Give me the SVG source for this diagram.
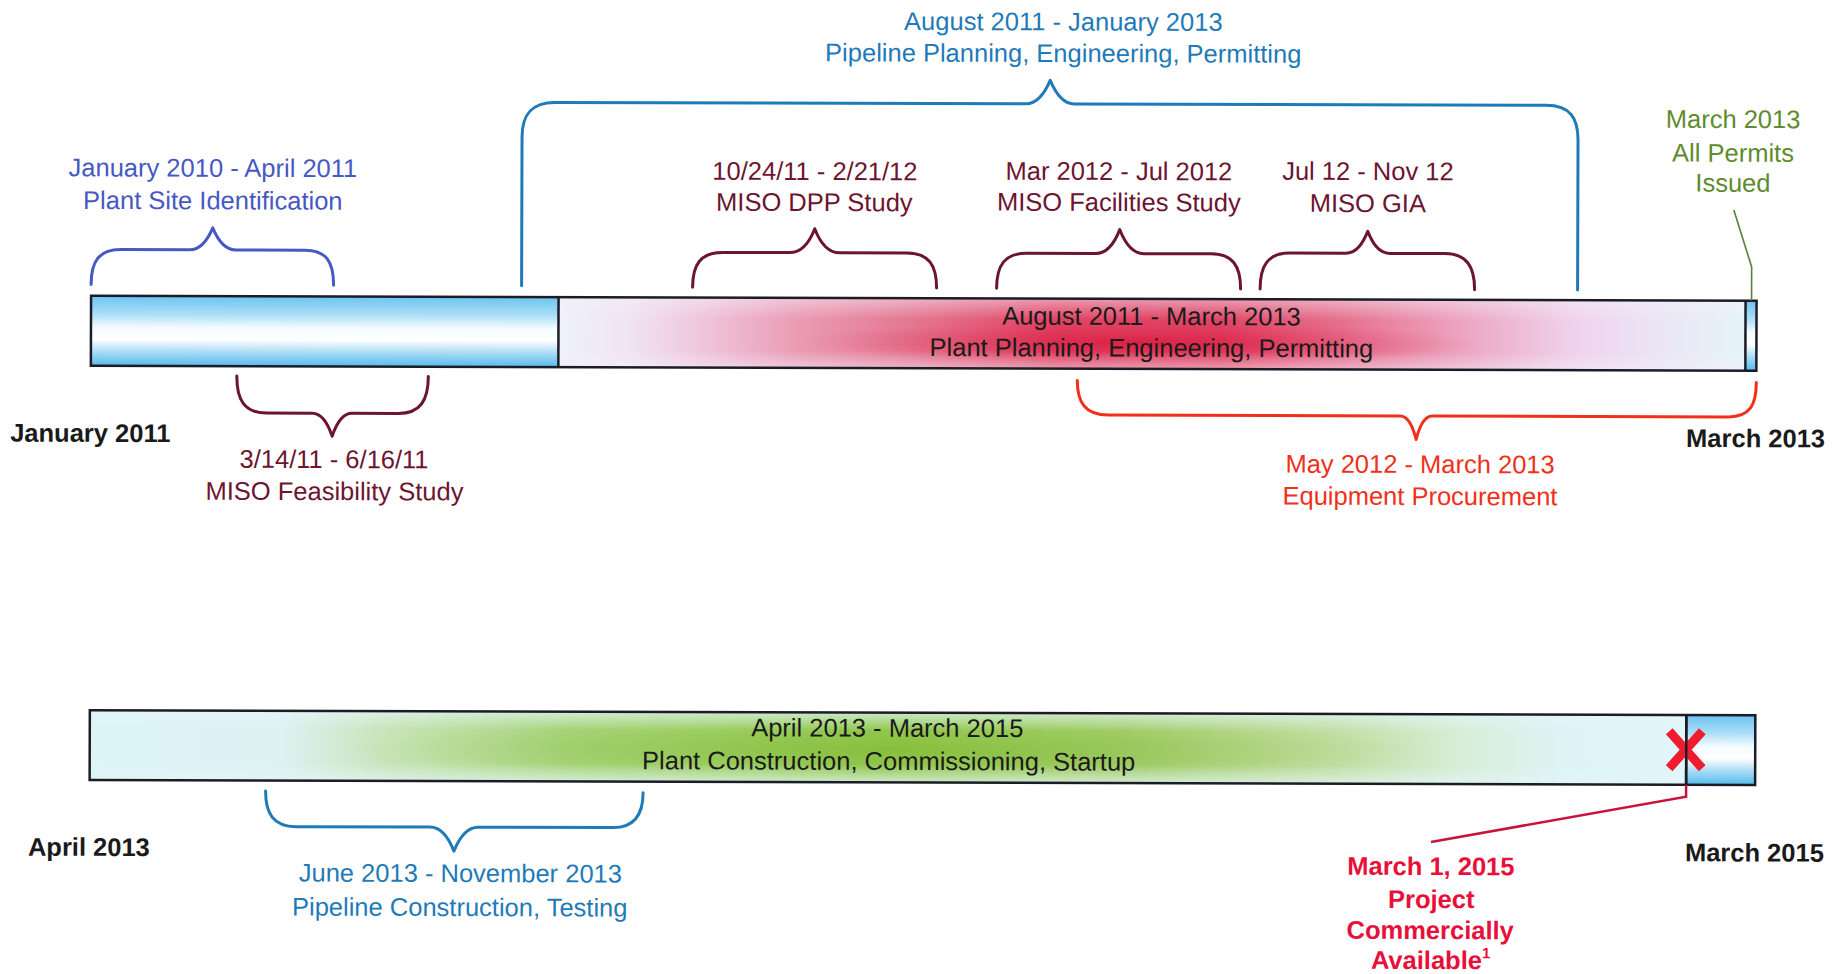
<svg xmlns="http://www.w3.org/2000/svg" width="1845" height="974" viewBox="0 0 1845 974">
<style>
.t{font-family:"Liberation Sans",Arial,Helvetica,sans-serif;font-size:25.5px;text-anchor:middle}
.l{text-anchor:start}
.b{font-weight:bold}
.indigo{fill:#4659c2}
.pipe{fill:#1f7ab8}
.maroon{fill:#6c1430}
.green{fill:#5e8c2c}
.orange{fill:#f0301a}
.black{fill:#1a1a1a}
.red{fill:#e8103a}
.brace{fill:none;stroke-width:3;stroke-linecap:round;stroke-linejoin:round}
.bar{stroke:#1c1c28;stroke-width:2.5}
</style>
<defs>
<linearGradient id="blueV" x1="0" y1="0" x2="0" y2="1">
<stop offset="0" stop-color="#6cc4f0"/>
<stop offset="0.25" stop-color="#a8ddf6"/>
<stop offset="0.45" stop-color="#f4fbfe"/>
<stop offset="0.62" stop-color="#ffffff"/>
<stop offset="0.82" stop-color="#a0d8f4"/>
<stop offset="1" stop-color="#56bbec"/>
</linearGradient>
<linearGradient id="redH" x1="0" y1="0" x2="1" y2="0">
<stop offset="0" stop-color="#eef1fa"/>
<stop offset="0.06" stop-color="#f0e4f2"/>
<stop offset="0.12" stop-color="#efc6dc"/>
<stop offset="0.2" stop-color="#ea9cb4"/>
<stop offset="0.3" stop-color="#e47690"/>
<stop offset="0.42" stop-color="#e04262"/>
<stop offset="0.56" stop-color="#e04464"/>
<stop offset="0.66" stop-color="#e6708e"/>
<stop offset="0.76" stop-color="#eca4c0"/>
<stop offset="0.86" stop-color="#f0d4ee"/>
<stop offset="0.94" stop-color="#eae8f6"/>
<stop offset="1" stop-color="#e4f4fa"/>
</linearGradient>
<linearGradient id="greenH" x1="0" y1="0" x2="1" y2="0">
<stop offset="0" stop-color="#ddf4f8"/>
<stop offset="0.12" stop-color="#dcf2f2"/>
<stop offset="0.19" stop-color="#c6e4b6"/>
<stop offset="0.3" stop-color="#a8d47a"/>
<stop offset="0.5" stop-color="#92c84c"/>
<stop offset="0.65" stop-color="#a2cd6a"/>
<stop offset="0.78" stop-color="#c2dea2"/>
<stop offset="0.86" stop-color="#d8eed8"/>
<stop offset="0.92" stop-color="#ddf3f4"/>
<stop offset="1" stop-color="#e0f6fa"/>
</linearGradient>
<linearGradient id="edgeFade" x1="0" y1="0" x2="0" y2="1">
<stop offset="0" stop-color="#f4f0fa" stop-opacity="0.5"/>
<stop offset="0.3" stop-color="#f4f0fa" stop-opacity="0"/>
<stop offset="0.75" stop-color="#f4f0fa" stop-opacity="0"/>
<stop offset="1" stop-color="#f4f0fa" stop-opacity="0.5"/>
</linearGradient>
<linearGradient id="edgeFadeG" x1="0" y1="0" x2="0" y2="1">
<stop offset="0" stop-color="#e4f6f8" stop-opacity="0.7"/>
<stop offset="0.26" stop-color="#e4f6f8" stop-opacity="0"/>
<stop offset="0.74" stop-color="#e4f6f8" stop-opacity="0"/>
<stop offset="1" stop-color="#e4f6f8" stop-opacity="0.7"/>
</linearGradient>
<radialGradient id="redStreak">
<stop offset="0" stop-color="#d80a32" stop-opacity="0.6"/>
<stop offset="0.5" stop-color="#dc1a40" stop-opacity="0.3"/>
<stop offset="1" stop-color="#e03050" stop-opacity="0"/>
</radialGradient>
<radialGradient id="greenStreak">
<stop offset="0" stop-color="#78b428" stop-opacity="0.45"/>
<stop offset="0.6" stop-color="#84bc38" stop-opacity="0.2"/>
<stop offset="1" stop-color="#90c448" stop-opacity="0"/>
</radialGradient>
</defs>
<rect width="1845" height="974" fill="#ffffff"/>
<g transform="rotate(0.17 922 487)">

<g id="top-bar">
<rect x="90.5" y="298.3" width="467.5" height="70" fill="url(#blueV)"/>
<rect x="558" y="298.3" width="1187" height="70" fill="url(#redH)"/>
<ellipse cx="1140" cy="342" rx="340" ry="22" fill="url(#redStreak)"/>
<rect x="558" y="298.3" width="1187" height="70" fill="url(#edgeFade)"/>
<rect x="1745" y="298.3" width="11" height="70" fill="url(#blueV)"/>
<rect class="bar" x="90.5" y="298.3" width="1665.5" height="70" fill="none"/>
<line class="bar" x1="558" y1="298.3" x2="558" y2="368.3"/>
<line class="bar" x1="1745" y1="298.3" x2="1745" y2="368.3"/>
<text class="t black" x="1151" y="324.3">August 2011 - March 2013</text>
<text class="t black" x="1151" y="356">Plant Planning, Engineering, Permitting</text>
</g>

<g id="bottom-bar">
<rect x="90.5" y="712.8" width="1596.5" height="69.7" fill="url(#greenH)"/>
<ellipse cx="890" cy="750" rx="560" ry="28" fill="url(#greenStreak)"/>
<rect x="90.5" y="712.8" width="1596.5" height="69.7" fill="url(#edgeFadeG)"/>
<rect x="1687" y="712.8" width="69" height="69.7" fill="url(#blueV)"/>
<rect class="bar" x="90.5" y="712.8" width="1665.5" height="69.7" fill="none"/>
<line class="bar" x1="1687" y1="712.8" x2="1687" y2="782.5"/>
<text class="t black" x="888" y="736.8">April 2013 - March 2015</text>
<text class="t black" x="889.5" y="770">Plant Construction, Commissioning, Startup</text>
</g>

<g id="connectors">
<path class="brace" stroke="#4659c2" d="M90.5,287 C90.5,264 98,252 120,252 L189,252 C200,252 207,242 212,230 C217,242 224,252 235,252 L304,252 C326,252 333,264 333,287"/>
<path class="brace" stroke="#1f7ab8" d="M521,287 L521,138 C521,116 530,103.5 554,103.5 L1025,103.5 C1036,103.5 1043,94 1049,80 C1055,94 1062,103.5 1073,103.5 L1545,103.5 C1569,103.5 1577,116 1577,138 L1577,288"/>
<path class="brace" stroke="#6c1430" d="M692,288 C692,265 700,253 722,253 L789,253 C801,253 809,242 814,229 C819,242 827,253 839,253 L906,253 C928,253 936,265 936,288"/>
<path class="brace" stroke="#6c1430" d="M996,288 C996,265 1004,253 1026,253 L1095,253 C1107,253 1114,242 1119,229 C1124,242 1131,253 1143,253 L1210,253 C1232,253 1240,265 1240,288"/>
<path class="brace" stroke="#6c1430" d="M1259.5,288 C1259.5,265 1267,252 1289,252 L1345,252 C1356,252 1362,242 1367,230 C1372,242 1378,252 1389,252 L1444,252 C1466,252 1474,265 1474,288"/>
<path class="brace" stroke="#6c1430" d="M236.5,378 C236.5,402 244,415 266,415 L312,415 C322,415 328,426 332,438 C336,426 342,415 352,415 L398,415 C420,415 428,402 428,378"/>
<path class="brace" stroke="#f0301a" d="M1077,380 C1077,402 1085,414.5 1108,414.5 L1400,414.5 C1408,414.5 1413,426 1416,438 C1419,426 1424,414.5 1432,414.5 L1728,414.5 C1750,414.5 1756,402 1756,380"/>
<path class="brace" stroke="#1f7ab8" d="M266.5,793 C266.5,815 274,828.5 297,828.5 L431,828.5 C443,828.5 450,840 455,852.5 C460,840 467,828.5 479,828.5 L614,828.5 C636,828.5 644,815 644,793.5"/>
<polyline fill="none" stroke="#5e7e3c" stroke-width="1.6" points="1733,207.6 1751,264.5 1751,298.3"/>
<polyline fill="none" stroke="#c8143c" stroke-width="2.5" points="1687,782.5 1687,794.4 1432,840.5"/>
</g>

<g id="plant-site">
<text class="t indigo" x="212" y="178.8">January 2010 - April 2011</text>
<text class="t indigo" x="212" y="211.4">Plant Site Identification</text>
</g>
<g id="pipeline-planning">
<text class="t pipe" x="1062" y="30">August 2011 - January 2013</text>
<text class="t pipe" x="1062" y="61.6">Pipeline Planning, Engineering, Permitting</text>
</g>
<g id="miso-dpp">
<text class="t maroon" x="814" y="180.3">10/24/11 - 2/21/12</text>
<text class="t maroon" x="813.5" y="211.3">MISO DPP Study</text>
</g>
<g id="miso-facilities">
<text class="t maroon" x="1118" y="179.4">Mar 2012 - Jul 2012</text>
<text class="t maroon" x="1118" y="210.4">MISO Facilities Study</text>
</g>
<g id="miso-gia">
<text class="t maroon" x="1367" y="178.7">Jul 12 - Nov 12</text>
<text class="t maroon" x="1367" y="210.7">MISO GIA</text>
</g>
<g id="permits">
<text class="t green" x="1732" y="125.6">March 2013</text>
<text class="t green" x="1732" y="159.3">All Permits</text>
<text class="t green" x="1732" y="189.3">Issued</text>
</g>
<g id="miso-feasibility">
<text class="t maroon" x="334" y="469.8">3/14/11 - 6/16/11</text>
<text class="t maroon" x="334.5" y="501.8">MISO Feasibility Study</text>
</g>
<g id="equipment">
<text class="t orange" x="1420" y="471.5">May 2012 - March 2013</text>
<text class="t orange" x="1420" y="503.5">Equipment Procurement</text>
</g>
<g id="pipeline-construction">
<text class="t pipe" x="461.5" y="883.4">June 2013 - November 2013</text>
<text class="t pipe" x="461" y="917.4">Pipeline Construction, Testing</text>
</g>
<g id="date-labels">
<text class="t l b black" x="10" y="444.3">January 2011</text>
<text class="t l b black" x="1686" y="444.7">March 2013</text>
<text class="t l b black" x="29" y="858.3">April 2013</text>
<text class="t l b black" x="1686" y="859">March 2015</text>
</g>
<g id="commercial">
<path d="M1670,729 L1703,766 M1703,729 L1670,766" stroke="#ee1c2e" stroke-width="9" stroke-linecap="butt" fill="none"/>
<line x1="1687" y1="712.8" x2="1687" y2="782.5" stroke="#1c1c28" stroke-width="2.5"/>
<text class="t b red" x="1432" y="873.5">March 1, 2015</text>
<text class="t b red" x="1432.5" y="906.5">Project</text>
<text class="t b red" x="1431.5" y="937.5">Commercially</text>
<text class="t b red" x="1432" y="967.5">Available<tspan font-size="15" dy="-11">1</tspan></text>
</g>
</g>
</svg>
